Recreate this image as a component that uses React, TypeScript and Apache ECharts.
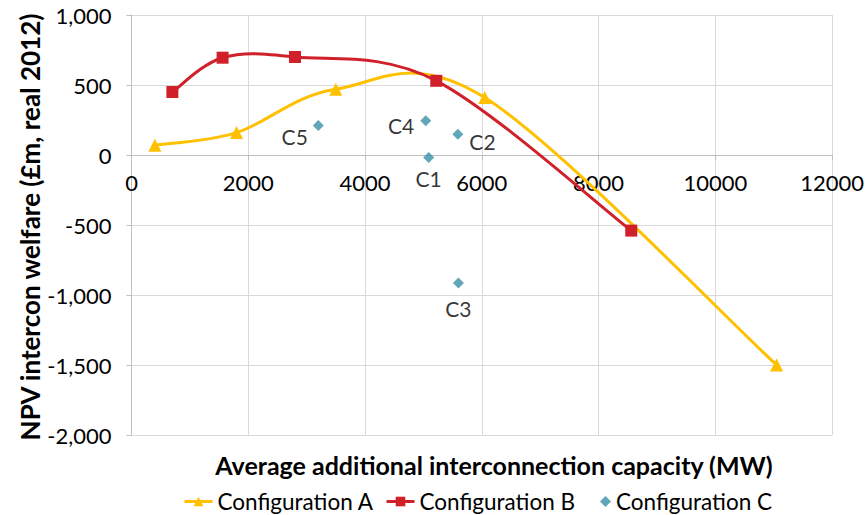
import React, { useEffect, useRef } from "react";
import * as echarts from "echarts";

const xTicks = [0, 2000, 4000, 6000, 8000, 10000, 12000];
const yTicks = [-2000, -1500, -1000, -500, 0, 500, 1000];

const seriesAName = "Configuration A";
const aX = [400, 1800, 3500, 6050, 11050];
const aY = [70, 160, 470, 410, -1500];

const seriesBName = "Configuration B";
const bX = [700, 1560, 2800, 5220, 8560];
const bY = [450, 695, 700, 530, -540];

const seriesCName = "Configuration C";
const cNames = ["C5", "C4", "C2", "C1", "C3"];
const cX = [3200, 5040, 5590, 5090, 5600];
const cY = [210, 245, 148, -17, -915];

const xTitle = "Average additional interconnection capacity (MW)";
const yTitle = "NPV intercon welfare (£m, real 2012)";

const FONT = "Lato, 'Open Sans', sans-serif";
const YELLOW = "#FFC000";
const RED = "#D0202A";
const TEAL = "#3A90A8";

// Excel-like smoothed curve (Catmull-Rom as cubic Bezier) in pixel space
function smoothPath(pts: number[][]): string {
  if (pts.length < 2) return "";
  let d = `M${pts[0][0]},${pts[0][1]}`;
  for (let i = 0; i < pts.length - 1; i++) {
    const p0 = pts[Math.max(0, i - 1)];
    const p1 = pts[i];
    const p2 = pts[i + 1];
    const p3 = pts[Math.min(pts.length - 1, i + 2)];
    const c1x = p1[0] + (p2[0] - p0[0]) / 6;
    const c1y = p1[1] + (p2[1] - p0[1]) / 6;
    const c2x = p2[0] - (p3[0] - p1[0]) / 6;
    const c2y = p2[1] - (p3[1] - p1[1]) / 6;
    d += ` C${c1x},${c1y} ${c2x},${c2y} ${p2[0]},${p2[1]}`;
  }
  return d;
}

function curveSeries(name: string, xs: number[], ys: number[], color: string, z: number) {
  return {
    name,
    type: "custom",
    coordinateSystem: "cartesian2d",
    silent: true,
    z,
    data: [[xs[0], ys[0]]],
    renderItem: (_params: any, api: any) => {
      const pts = xs.map((x, i) => api.coord([x, ys[i]]));
      return {
        type: "path",
        shape: { pathData: smoothPath(pts) },
        style: { fill: "none", stroke: color, lineWidth: 3, lineJoin: "round", lineCap: "round" },
      };
    },
  };
}

export default function App() {
  const ref = useRef<HTMLDivElement>(null);
  useEffect(() => {
    if (!ref.current) return;
    const chart = echarts.init(ref.current, undefined, { renderer: "svg" });
    const labelPos: Record<string, any> = {
      C5: { position: "left", distance: 5, offset: [0, 11] },
      C4: { position: "left", distance: 6, offset: [0, 5] },
      C2: { position: "right", distance: 6, offset: [0, 7] },
      C1: { position: "bottom", distance: 5 },
      C3: { position: "bottom", distance: 9 },
    };
    const gridTop = 15;
    const gridBottom = 80;
    const gridHeight = 515 - gridTop - gridBottom;
    const yMin = yTicks[0];
    const yMax = yTicks[yTicks.length - 1];
    const zeroFromBottom = ((0 - yMin) / (yMax - yMin)) * gridHeight;
    const legendCommon = {
      top: 485,
      textStyle: { fontSize: 22.5, color: "#000", fontFamily: FONT },
      itemGap: 0,
      itemWidth: 28,
      itemHeight: 12,
    };
    chart.setOption({
      animation: false,
      textStyle: { fontFamily: FONT },
      grid: { left: 131.5, right: 31.5, top: gridTop, bottom: gridBottom, containLabel: false },
      xAxis: {
        type: "value",
        min: xTicks[0],
        max: xTicks[xTicks.length - 1],
        interval: 2000,
        position: "bottom",
        offset: -zeroFromBottom,
        axisLine: { show: true, onZero: false, lineStyle: { color: "#BFBFBF", width: 1 } },
        axisTick: { show: true, length: 5, lineStyle: { color: "#BFBFBF" } },
        axisLabel: {
          color: "#000",
          fontSize: 22,
          margin: 16,
          fontFamily: FONT,
          formatter: (v: number) => String(v),
        },
        splitLine: { show: true, lineStyle: { color: "#D9D9D9", width: 1 } },
      },
      yAxis: {
        type: "value",
        min: yMin,
        max: yMax,
        interval: 500,
        axisLine: { show: true, lineStyle: { color: "#BFBFBF", width: 1 } },
        axisTick: { show: true, inside: false, length: 5, lineStyle: { color: "#BFBFBF" } },
        axisLabel: {
          color: "#000",
          fontSize: 22,
          margin: 20,
          fontFamily: FONT,
          formatter: (v: number) => v.toLocaleString("en-US"),
        },
        splitLine: { show: true, lineStyle: { color: "#D9D9D9", width: 1 } },
      },
      legend: [
        {
          ...legendCommon,
          left: 178,
          data: [{ name: seriesAName, lineStyle: { color: YELLOW, width: 3, opacity: 1 } }],
        },
        {
          ...legendCommon,
          left: 380,
          data: [{ name: seriesBName, lineStyle: { color: RED, width: 3, opacity: 1 } }],
        },
        {
          ...legendCommon,
          left: 595,
          itemWidth: 11,
          itemHeight: 11,
          data: [{ name: seriesCName, icon: "diamond" }],
        },
      ],
      graphic: [
        {
          type: "text",
          x: 494,
          y: 465,
          style: {
            text: xTitle,
            font: `bold 25px ${FONT}`,
            fill: "#000",
            align: "center",
            verticalAlign: "middle",
          },
        },
        {
          type: "text",
          x: 30,
          y: 227,
          rotation: Math.PI / 2,
          style: {
            text: yTitle,
            font: `bold 26px ${FONT}`,
            fill: "#000",
            align: "center",
            verticalAlign: "middle",
          },
        },
      ],
      series: [
        curveSeries("curveA", aX, aY, YELLOW, 2),
        curveSeries("curveB", bX, bY, RED, 3),
        {
          name: seriesAName,
          type: "line",
          smooth: false,
          symbol: "triangle",
          symbolSize: 13,
          lineStyle: { color: YELLOW, width: 3, opacity: 0 },
          itemStyle: { color: YELLOW },
          data: aX.map((x, i) => [x, aY[i]]),
          z: 4,
        },
        {
          name: seriesBName,
          type: "line",
          smooth: false,
          symbol: "rect",
          symbolSize: 12,
          lineStyle: { color: RED, width: 3, opacity: 0 },
          itemStyle: { color: RED },
          data: bX.map((x, i) => [x, bY[i]]),
          z: 5,
        },
        {
          name: seriesCName,
          type: "scatter",
          symbol: "diamond",
          symbolSize: 11,
          itemStyle: { color: TEAL },
          label: {
            show: true,
            formatter: (p: any) => p.name,
            fontSize: 21,
            color: "#000",
            fontFamily: FONT,
          },
          data: cNames.map((n, i) => ({
            name: n,
            value: [cX[i], cY[i]],
            label: labelPos[n],
          })),
          z: 6,
        },
      ],
    });
    return () => chart.dispose();
  }, []);
  return (
    <div
      ref={ref}
      style={{ position: "absolute", left: 0, top: 0, width: 867, height: 515 }}
    />
  );
}
